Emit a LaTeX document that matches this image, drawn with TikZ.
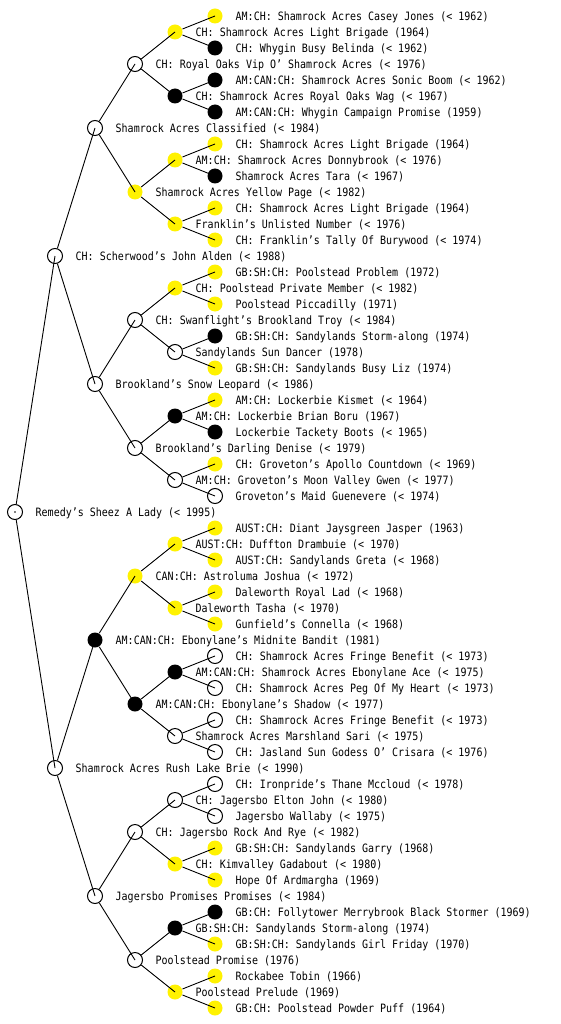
\documentclass[tikz,border=0pt]{standalone}
\usepackage{fontspec}
\usepackage{graphicx}
\setmainfont{DejaVu Sans Mono}
\tikzset{
  base/.style={circle, minimum size=15pt, inner sep=0pt, line width=1pt},
  wn/.style={base, draw=black, fill=white},
  yn/.style={base, fill=yellow},
  bn/.style={base, fill=black},
  lab/.style={anchor=base west, inner sep=0pt, font=\fontsize{10pt}{12pt}\selectfont},
  edge/.style={line width=0.9pt, black}
}
\newcommand\pednode[4]{%
  \node[#3] (n#1) at (#2,{16*#1}) {};
  \node[lab] (t#1) at ({#2+20.5},{16*#1+4.2}) {\scalebox{1}[1.15]{#4}};
}
\begin{document}
\begin{tikzpicture}[x=1pt,y=-1pt]
\useasboundingbox[fill=white] (0,0) rectangle (560,1024);
\pednode{1}{215}{yn}{AM:CH: Shamrock Acres Casey Jones (< 1962)}
\pednode{2}{175}{yn}{CH: Shamrock Acres Light Brigade (1964)}
\pednode{3}{215}{bn}{CH: Whygin Busy Belinda (< 1962)}
\pednode{4}{135}{wn}{CH: Royal Oaks Vip O' Shamrock Acres (< 1976)}
\pednode{5}{215}{bn}{AM:CAN:CH: Shamrock Acres Sonic Boom (< 1962)}
\pednode{6}{175}{bn}{CH: Shamrock Acres Royal Oaks Wag (< 1967)}
\pednode{7}{215}{bn}{AM:CAN:CH: Whygin Campaign Promise (1959)}
\pednode{8}{95}{wn}{Shamrock Acres Classified (< 1984)}
\pednode{9}{215}{yn}{CH: Shamrock Acres Light Brigade (1964)}
\pednode{10}{175}{yn}{AM:CH: Shamrock Acres Donnybrook (< 1976)}
\pednode{11}{215}{bn}{Shamrock Acres Tara (< 1967)}
\pednode{12}{135}{yn}{Shamrock Acres Yellow Page (< 1982)}
\pednode{13}{215}{yn}{CH: Shamrock Acres Light Brigade (1964)}
\pednode{14}{175}{yn}{Franklin's Unlisted Number (< 1976)}
\pednode{15}{215}{yn}{CH: Franklin's Tally Of Burywood (< 1974)}
\pednode{16}{55}{wn}{CH: Scherwood's John Alden (< 1988)}
\pednode{17}{215}{yn}{GB:SH:CH: Poolstead Problem (1972)}
\pednode{18}{175}{yn}{CH: Poolstead Private Member (< 1982)}
\pednode{19}{215}{yn}{Poolstead Piccadilly (1971)}
\pednode{20}{135}{wn}{CH: Swanflight's Brookland Troy (< 1984)}
\pednode{21}{215}{bn}{GB:SH:CH: Sandylands Storm-along (1974)}
\pednode{22}{175}{wn}{Sandylands Sun Dancer (1978)}
\pednode{23}{215}{yn}{GB:SH:CH: Sandylands Busy Liz (1974)}
\pednode{24}{95}{wn}{Brookland's Snow Leopard (< 1986)}
\pednode{25}{215}{yn}{AM:CH: Lockerbie Kismet (< 1964)}
\pednode{26}{175}{bn}{AM:CH: Lockerbie Brian Boru (1967)}
\pednode{27}{215}{bn}{Lockerbie Tackety Boots (< 1965)}
\pednode{28}{135}{wn}{Brookland's Darling Denise (< 1979)}
\pednode{29}{215}{yn}{CH: Groveton's Apollo Countdown (< 1969)}
\pednode{30}{175}{wn}{AM:CH: Groveton's Moon Valley Gwen (< 1977)}
\pednode{31}{215}{wn}{Groveton's Maid Guenevere (< 1974)}
\pednode{32}{15}{wn}{Remedy's Sheez A Lady (< 1995)}
\pednode{33}{215}{yn}{AUST:CH: Diant Jaysgreen Jasper (1963)}
\pednode{34}{175}{yn}{AUST:CH: Duffton Drambuie (< 1970)}
\pednode{35}{215}{yn}{AUST:CH: Sandylands Greta (< 1968)}
\pednode{36}{135}{yn}{CAN:CH: Astroluma Joshua (< 1972)}
\pednode{37}{215}{yn}{Daleworth Royal Lad (< 1968)}
\pednode{38}{175}{yn}{Daleworth Tasha (< 1970)}
\pednode{39}{215}{yn}{Gunfield's Connella (< 1968)}
\pednode{40}{95}{bn}{AM:CAN:CH: Ebonylane's Midnite Bandit (1981)}
\pednode{41}{215}{wn}{CH: Shamrock Acres Fringe Benefit (< 1973)}
\pednode{42}{175}{bn}{AM:CAN:CH: Shamrock Acres Ebonylane Ace (< 1975)}
\pednode{43}{215}{wn}{CH: Shamrock Acres Peg Of My Heart (< 1973)}
\pednode{44}{135}{bn}{AM:CAN:CH: Ebonylane's Shadow (< 1977)}
\pednode{45}{215}{wn}{CH: Shamrock Acres Fringe Benefit (< 1973)}
\pednode{46}{175}{wn}{Shamrock Acres Marshland Sari (< 1975)}
\pednode{47}{215}{wn}{CH: Jasland Sun Godess O' Crisara (< 1976)}
\pednode{48}{55}{wn}{Shamrock Acres Rush Lake Brie (< 1990)}
\pednode{49}{215}{wn}{CH: Ironpride's Thane Mccloud (< 1978)}
\pednode{50}{175}{wn}{CH: Jagersbo Elton John (< 1980)}
\pednode{51}{215}{wn}{Jagersbo Wallaby (< 1975)}
\pednode{52}{135}{wn}{CH: Jagersbo Rock And Rye (< 1982)}
\pednode{53}{215}{yn}{GB:SH:CH: Sandylands Garry (1968)}
\pednode{54}{175}{yn}{CH: Kimvalley Gadabout (< 1980)}
\pednode{55}{215}{yn}{Hope Of Ardmargha (1969)}
\pednode{56}{95}{wn}{Jagersbo Promises Promises (< 1984)}
\pednode{57}{215}{bn}{GB:CH: Follytower Merrybrook Black Stormer (1969)}
\pednode{58}{175}{bn}{GB:SH:CH: Sandylands Storm-along (1974)}
\pednode{59}{215}{yn}{GB:SH:CH: Sandylands Girl Friday (1970)}
\pednode{60}{135}{wn}{Poolstead Promise (1976)}
\pednode{61}{215}{yn}{Rockabee Tobin (1966)}
\pednode{62}{175}{yn}{Poolstead Prelude (1969)}
\pednode{63}{215}{yn}{GB:CH: Poolstead Powder Puff (1964)}
\foreach \p/\d in {32/16,16/8,48/8,8/4,24/4,40/4,56/4,
  4/2,12/2,20/2,28/2,36/2,44/2,52/2,60/2,
  2/1,6/1,10/1,14/1,18/1,22/1,26/1,30/1,34/1,38/1,42/1,46/1,50/1,54/1,58/1,62/1}{
  \pgfmathtruncatemacro\ca{\p-\d}
  \pgfmathtruncatemacro\cb{\p+\d}
  \draw[edge] (n\p) -- (n\ca.center);
  \draw[edge] (n\p) -- (n\cb.center);
}
\fill (n32.center) circle (0.8);
\end{tikzpicture}
\end{document}
